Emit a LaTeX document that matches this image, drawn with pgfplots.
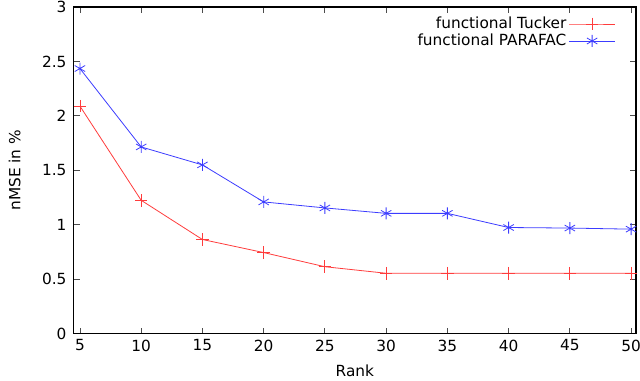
\documentclass[border=0pt]{standalone}
\usepackage{fontspec}
\setmainfont{DejaVu Sans}
\usepackage{pgfplots}
\pgfplotsset{compat=1.18}
\definecolor{gpred}{RGB}{255,60,60}
\definecolor{gpblue}{RGB}{60,60,255}

\begin{document}
\begin{tikzpicture}
\begin{axis}[
    name=ax,
    scale only axis,
    width=421.6pt,
    height=245pt,
    xmin=4.5, xmax=50.4,
    ymin=0, ymax=3,
    xtick={5,10,...,50},
    ytick={0,0.5,...,3},
    yticklabels={0,0.5,1,1.5,2,2.5,3},
    tick align=inside,
    major tick length=4.5pt,
    tick style={black!70, line width=0.6pt},
    axis line style={black, line width=0.8pt},
    /pgf/number format/assume math mode=true,
    tick label style={font=\fontsize{11.5}{13}\selectfont},
    yticklabel style={xshift=-2pt},
    xticklabel style={yshift=-1pt},
    label style={font=\fontsize{11.5}{13}\selectfont},
    xlabel={Rank},
    xlabel style={at={(axis description cs:0.5,-0.112)}, anchor=center},
    ylabel={nMSE in \%},
    ylabel style={at={(axis description cs:-0.105,0.5)}, anchor=center},
    legend style={at={(0.963,0.977)}, anchor=north east, draw=none, fill=none,
        font=\fontsize{11.5}{13}\selectfont, row sep=-1.5pt, inner sep=0pt,
        outer sep=0pt},
    legend cell align=right,
    legend plot pos=right,
    legend image code/.code={
        \draw[mark repeat=2,mark phase=2,#1]
            plot coordinates {(3pt,0pt) (20pt,0pt) (37pt,0pt)};},
]
\addplot[gpred, line width=0.6pt, mark=+, mark size=4.7pt] coordinates {
    (5,2.09) (10,1.225) (15,0.865) (20,0.745) (25,0.615)
    (30,0.555) (35,0.555) (40,0.555) (45,0.555) (50,0.555)};
\addlegendentry{functional Tucker}
\addplot[gpblue, line width=0.6pt, mark=asterisk, mark size=4.5pt] coordinates {
    (5,2.435) (10,1.715) (15,1.55) (20,1.21) (25,1.155)
    (30,1.105) (35,1.105) (40,0.975) (45,0.97) (50,0.96)};
\addlegendentry{functional PARAFAC}
\end{axis}
\pgfresetboundingbox
\path[use as bounding box] ([xshift=-55.35pt,yshift=-35.25pt]ax.south west)
    rectangle ([xshift=3pt,yshift=5.25pt]ax.north east);
\end{tikzpicture}
\end{document}
